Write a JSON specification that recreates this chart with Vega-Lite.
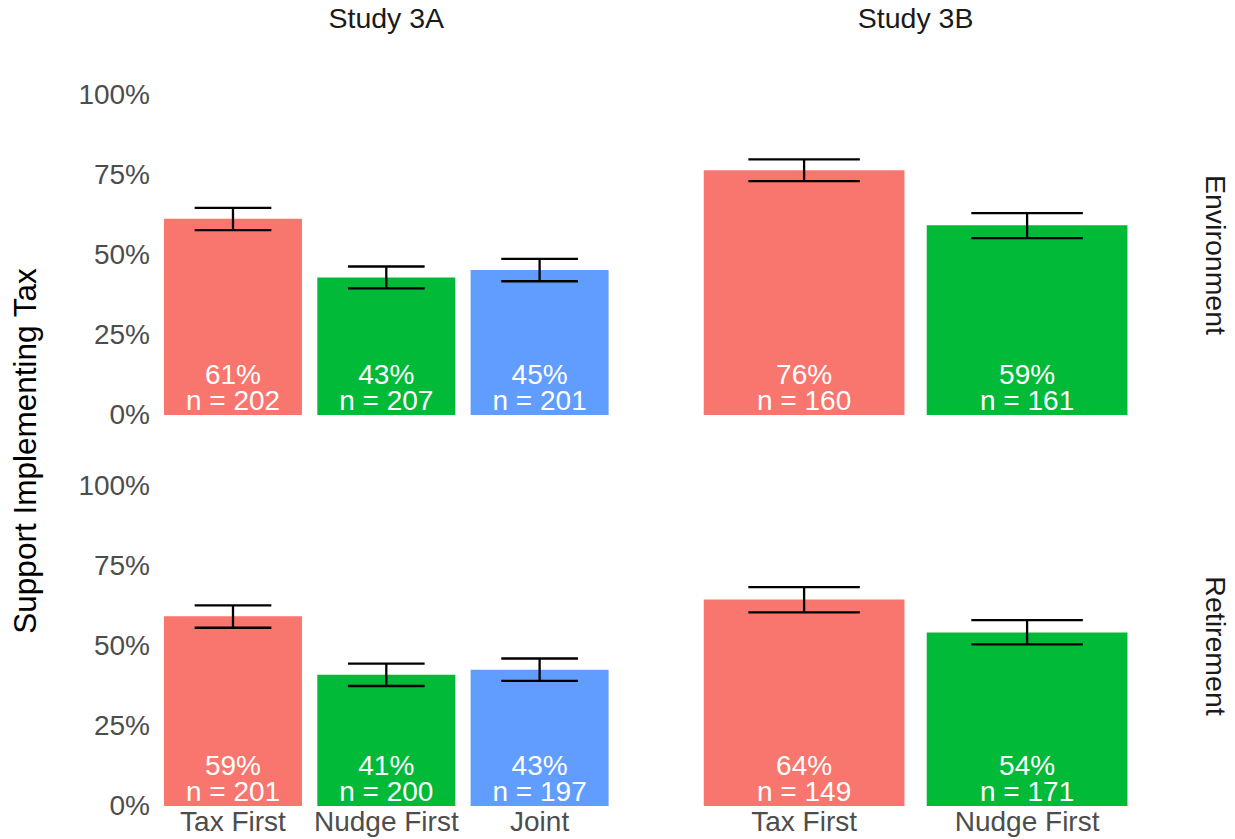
{
  "$schema": "https://vega.github.io/schema/vega-lite/v6.json",
  "padding": {"left": 10, "top": 4, "right": 5, "bottom": 5},
  "background": "white",
  "config": {
    "font": "Liberation Sans",
    "view": {"stroke": null},
    "axis": {"grid": false, "domain": false, "ticks": false, "labelFont": "Liberation Sans", "labelFontSize": 28, "labelColor": "#4D4D4D"}
  },
  "data": {
    "values": [
      {"study": "Study 3A", "domain": "Environment", "condition": "Tax First", "pct": 0.613, "lo": 0.578, "hi": 0.647, "pctLabel": "61%", "nLabel": "n = 202"},
      {"study": "Study 3A", "domain": "Environment", "condition": "Nudge First", "pct": 0.430, "lo": 0.396, "hi": 0.464, "pctLabel": "43%", "nLabel": "n = 207"},
      {"study": "Study 3A", "domain": "Environment", "condition": "Joint", "pct": 0.453, "lo": 0.418, "hi": 0.488, "pctLabel": "45%", "nLabel": "n = 201"},
      {"study": "Study 3B", "domain": "Environment", "condition": "Tax First", "pct": 0.765, "lo": 0.731, "hi": 0.799, "pctLabel": "76%", "nLabel": "n = 160"},
      {"study": "Study 3B", "domain": "Environment", "condition": "Nudge First", "pct": 0.593, "lo": 0.553, "hi": 0.631, "pctLabel": "59%", "nLabel": "n = 161"},
      {"study": "Study 3A", "domain": "Retirement", "condition": "Tax First", "pct": 0.593, "lo": 0.557, "hi": 0.627, "pctLabel": "59%", "nLabel": "n = 201"},
      {"study": "Study 3A", "domain": "Retirement", "condition": "Nudge First", "pct": 0.410, "lo": 0.375, "hi": 0.445, "pctLabel": "41%", "nLabel": "n = 200"},
      {"study": "Study 3A", "domain": "Retirement", "condition": "Joint", "pct": 0.426, "lo": 0.391, "hi": 0.461, "pctLabel": "43%", "nLabel": "n = 197"},
      {"study": "Study 3B", "domain": "Retirement", "condition": "Tax First", "pct": 0.645, "lo": 0.605, "hi": 0.684, "pctLabel": "64%", "nLabel": "n = 149"},
      {"study": "Study 3B", "domain": "Retirement", "condition": "Nudge First", "pct": 0.542, "lo": 0.505, "hi": 0.581, "pctLabel": "54%", "nLabel": "n = 171"}
    ]
  },
  "spacing": 38.3,
  "hconcat": [
    {
      "transform": [{"filter": "datum.study === 'Study 3A'"}],
      "facet": {
        "row": {"field": "domain", "type": "nominal", "sort": ["Environment", "Retirement"],
          "header": {"labels": false, "title": "Support Implementing Tax", "titleFont": "Liberation Sans", "titleFontSize": 31.5, "titleFontWeight": "normal", "titleColor": "#000000", "titleOrient": "left", "titleAngle": -90, "titleBaseline": "alphabetic", "titlePadding": 0}},
        "column": {"field": "study", "type": "nominal",
          "header": {"title": null, "labelFont": "Liberation Sans", "labelFontSize": 28.5, "labelColor": "#1A1A1A", "labelBaseline": "alphabetic", "labelPadding": 39}}
      },
      "spacing": {"row": 70},
      "spec": {
        "width": 490.6,
        "height": 320,
        "encoding": {
          "x": {"field": "condition", "type": "nominal", "sort": ["Tax First", "Nudge First", "Joint"],
            "scale": {"paddingInner": 0.1, "paddingOuter": 0.15},
            "axis": {"title": null, "labelAngle": 0, "labelPadding": 1, "labelBaseline": "top"}}
        },
        "layer": [
          {"mark": {"type": "bar"},
           "encoding": {
             "y": {"field": "pct", "type": "quantitative", "title": null, "scale": {"domain": [0, 1]},
               "axis": {"values": [0, 0.25, 0.5, 0.75, 1], "format": ".0%", "labelPadding": -8.5, "title": null}},
             "color": {"field": "condition", "type": "nominal", "scale": {"domain": ["Tax First", "Nudge First", "Joint"], "range": ["#F8766D", "#00BA38", "#619CFF"]}, "legend": null}
           }},
          {"mark": {"type": "rule", "color": "black", "strokeWidth": 2.3},
           "encoding": {"y": {"field": "lo", "type": "quantitative", "title": null}, "y2": {"field": "hi"}}},
          {"mark": {"type": "tick", "color": "black", "size": 76.7, "thickness": 2.3, "opacity": 1},
           "encoding": {"y": {"field": "lo", "type": "quantitative", "title": null}}},
          {"mark": {"type": "tick", "color": "black", "size": 76.7, "thickness": 2.3, "opacity": 1},
           "encoding": {"y": {"field": "hi", "type": "quantitative", "title": null}}},
          {"mark": {"type": "text", "color": "white", "fontSize": 28, "align": "center", "baseline": "alphabetic", "dy": -31},
           "encoding": {"y": {"datum": 0, "type": "quantitative", "title": null}, "text": {"field": "pctLabel"}}},
          {"mark": {"type": "text", "color": "white", "fontSize": 28, "align": "center", "baseline": "alphabetic", "dy": -5},
           "encoding": {"y": {"datum": 0, "type": "quantitative", "title": null}, "text": {"field": "nLabel"}}}
        ]
      }
    },
    {
      "transform": [{"filter": "datum.study === 'Study 3B'"}],
      "facet": {
        "row": {"field": "domain", "type": "nominal", "sort": ["Environment", "Retirement"],
          "header": {"title": null, "labelFont": "Liberation Sans", "labelFontSize": 28.5, "labelColor": "#1A1A1A", "labelOrient": "right", "labelAngle": 90, "labelAlign": "center", "labelBaseline": "alphabetic", "labelPadding": 16}},
        "column": {"field": "study", "type": "nominal",
          "header": {"title": null, "labelFont": "Liberation Sans", "labelFontSize": 28.5, "labelColor": "#1A1A1A", "labelBaseline": "alphabetic", "labelPadding": 39}}
      },
      "spacing": {"row": 70},
      "spec": {
        "width": 490.6,
        "height": 320,
        "encoding": {
          "x": {"field": "condition", "type": "nominal", "sort": ["Tax First", "Nudge First", "Joint"],
            "scale": {"paddingInner": 0.1, "paddingOuter": 0.15},
            "axis": {"title": null, "labelAngle": 0, "labelPadding": 1, "labelBaseline": "top"}}
        },
        "layer": [
          {"mark": {"type": "bar"},
           "encoding": {
             "y": {"field": "pct", "type": "quantitative", "title": null, "scale": {"domain": [0, 1]}, "axis": null},
             "color": {"field": "condition", "type": "nominal", "scale": {"domain": ["Tax First", "Nudge First", "Joint"], "range": ["#F8766D", "#00BA38", "#619CFF"]}, "legend": null}
           }},
          {"mark": {"type": "rule", "color": "black", "strokeWidth": 2.3},
           "encoding": {"y": {"field": "lo", "type": "quantitative", "axis": null, "title": null}, "y2": {"field": "hi"}}},
          {"mark": {"type": "tick", "color": "black", "size": 111.5, "thickness": 2.3, "opacity": 1},
           "encoding": {"y": {"field": "lo", "type": "quantitative", "axis": null, "title": null}}},
          {"mark": {"type": "tick", "color": "black", "size": 111.5, "thickness": 2.3, "opacity": 1},
           "encoding": {"y": {"field": "hi", "type": "quantitative", "axis": null, "title": null}}},
          {"mark": {"type": "text", "color": "white", "fontSize": 28, "align": "center", "baseline": "alphabetic", "dy": -31},
           "encoding": {"y": {"datum": 0, "type": "quantitative", "axis": null}, "text": {"field": "pctLabel"}}},
          {"mark": {"type": "text", "color": "white", "fontSize": 28, "align": "center", "baseline": "alphabetic", "dy": -5},
           "encoding": {"y": {"datum": 0, "type": "quantitative", "axis": null}, "text": {"field": "nLabel"}}}
        ]
      }
    }
  ]
}
